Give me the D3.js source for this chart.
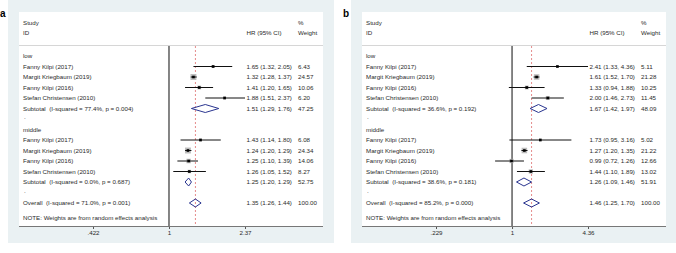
<!DOCTYPE html>
<html>
<head>
<meta charset="utf-8">
<script src="https://cdn.jsdelivr.net/npm/d3@7"></script>
<style>
  body { margin: 0; background: #fff; }
  svg { display: block; font-family: "Liberation Sans", Arial, sans-serif; }
  text { white-space: pre; }
</style>
</head>
<body>
<svg id="chart" width="676" height="253"></svg>
<script>
// study labels and groups, same for both panels
const studies = ['Fanny Kilpi (2017)', 'Margit Kriegbaum (2019)', 'Fanny Kilpi (2016)', 'Stefan Christensen (2010)']
const groups = ['low', 'middle']

// panel a : HR, lower, upper, weight (low 4 studies then middle 4 studies)
const aEst = [1.65, 1.32, 1.41, 1.88, 1.43, 1.24, 1.25, 1.26]
const aLo = [1.32, 1.28, 1.20, 1.51, 1.14, 1.20, 1.10, 1.05]
const aHi = [2.05, 1.37, 1.65, 2.37, 1.80, 1.29, 1.39, 1.52]
const aW = [6.43, 24.57, 10.06, 6.20, 6.08, 24.34, 14.06, 8.27]
// subtotals low, middle, then overall
const aPoolEst = [1.51, 1.25, 1.35]
const aPoolLo = [1.29, 1.20, 1.26]
const aPoolHi = [1.76, 1.29, 1.44]
const aPoolW = [47.25, 52.75, 100.00]
const aI2 = [77.4, 0.0, 71.0]
const aP = [0.004, 0.687, 0.001]
const aTicks = [0.422, 1, 2.37]
const aTickLabels = ['.422', '1', '2.37']

// panel b
const bEst = [2.41, 1.61, 1.33, 2.00, 1.73, 1.27, 0.99, 1.44]
const bLo = [1.33, 1.52, 0.94, 1.46, 0.95, 1.20, 0.72, 1.10]
const bHi = [4.36, 1.70, 1.88, 2.73, 3.16, 1.35, 1.26, 1.89]
const bW = [5.11, 21.28, 10.25, 11.45, 5.02, 21.22, 12.66, 13.02]
const bPoolEst = [1.67, 1.26, 1.46]
const bPoolLo = [1.42, 1.09, 1.25]
const bPoolHi = [1.97, 1.46, 1.70]
const bPoolW = [48.09, 51.91, 100.00]
const bI2 = [36.6, 38.6, 85.2]
const bP = [0.192, 0.181, 0.000]
const bTicks = [0.229, 1, 4.36]
const bTickLabels = ['.229', '1', '4.36']

const svg = d3.select('#chart')
const f2 = d3.format('.2f'), f1 = d3.format('.1f'), f3 = d3.format('.3f')

const bluish = '#eaf1f3'
const navy = '#2a3590'
const fs = '6.2px'
const hrX = 246.5
const wX = 298

const y = d3.scaleLinear().domain([0, 14]).range([56, 203])

const drawPanel = (ox, letter, est, lo, hi, w, pEst, pLo, pHi, pW, i2, p, ticks, tickLabels) => {

	const g = svg.append('g').attr('transform', `translate(${ox},0)`)

	g.append('text')
	.attr('x', 0).attr('y', 17)
	.style('font-size', '10px').style('font-weight', 'bold')
	.text(letter)

	g.append('rect').attr('x', 8).attr('y', 0).attr('width', 326).attr('height', 243).attr('fill', bluish)
	g.append('rect').attr('x', 19).attr('y', 12).attr('width', 304).attr('height', 214).attr('fill', '#fff')

	// header
	const txt = (x, yy, s, anchor) => g.append('text')
		.attr('x', x).attr('y', yy).attr('dy', '0.35em')
		.attr('text-anchor', anchor || 'start')
		.style('font-size', fs).attr('fill', '#2a2a2a')
		.text(s)

	txt(23, 22.5, 'Study')
	txt(23, 33, 'ID')
	txt(wX, 22.5, '%')
	txt(hrX, 33, 'HR (95% CI)')
	txt(wX, 33, 'Weight')

	g.append('line').attr('x1', 19).attr('x2', 323).attr('y1', 45.5).attr('y2', 45.5)
	.attr('stroke', '#d6d6d6').attr('stroke-width', 1)

	const x = d3.scaleLog().domain([ticks[0], ticks[2]]).range([93, 245])

	// null line and pooled effect line
	g.append('line').attr('x1', x(1)).attr('x2', x(1)).attr('y1', 46).attr('y2', 226)
	.attr('stroke', '#222').attr('stroke-width', 1.1)

	g.append('line').attr('x1', x(pEst[2])).attr('x2', x(pEst[2])).attr('y1', 46).attr('y2', 226)
	.attr('stroke', '#e58c8c').attr('stroke-width', 1).attr('stroke-dasharray', '2,2')

	// rows
	groups.forEach((grp, gi) => {
		const base = gi * 7
		txt(23, y(base), grp)
		studies.forEach((s, si) => {
			const k = gi * 4 + si
			const yy = y(base + 1 + si)
			txt(23, yy, s)
			txt(hrX, yy, `${f2(est[k])} (${f2(lo[k])}, ${f2(hi[k])})`)
			txt(wX, yy, f2(w[k]))

			const side = 1.2 * Math.sqrt(w[k])
			g.append('rect')
			.attr('x', x(est[k]) - side / 2).attr('y', yy - side / 2)
			.attr('width', side).attr('height', side)
			.attr('fill', '#bdbdbd')

			g.append('line')
			.attr('x1', x(lo[k])).attr('x2', x(hi[k]))
			.attr('y1', yy).attr('y2', yy)
			.attr('stroke', '#111').attr('stroke-width', 1)

			g.append('rect')
			.attr('x', x(est[k]) - 1.3).attr('y', yy - 1.3)
			.attr('width', 2.6).attr('height', 2.6)
			.attr('fill', '#000')
		})
		const ys = y(base + 5)
		txt(23, ys, `Subtotal  (I-squared = ${f1(i2[gi])}%, p = ${f3(p[gi])})`)
		txt(hrX, ys, `${f2(pEst[gi])} (${f2(pLo[gi])}, ${f2(pHi[gi])})`)
		txt(wX, ys, f2(pW[gi]))
		txt(24, y(base + 6) - 2, '.')
	})

	const yo = y(14)
	txt(23, yo, `Overall  (I-squared = ${f1(i2[2])}%, p = ${f3(p[2])})`)
	txt(hrX, yo, `${f2(pEst[2])} (${f2(pLo[2])}, ${f2(pHi[2])})`)
	txt(wX, yo, f2(pW[2]))
	txt(23, 218, 'NOTE: Weights are from random effects analysis')

	// diamonds
	;[0, 1, 2].forEach(i => {
		const yy = y(i === 2 ? 14 : i * 7 + 5)
		const pts = [[x(pLo[i]), yy], [x(pEst[i]), yy - 4], [x(pHi[i]), yy], [x(pEst[i]), yy + 4]]
		g.append('polygon')
		.attr('points', pts.map(d => d.join(',')).join(' '))
		.attr('fill', 'none').attr('stroke', navy).attr('stroke-width', 1)
	})

	// axis
	const axis = g.append('g')
	.attr('transform', 'translate(0,226)')
	.call(d3.axisBottom(x).tickValues(ticks).tickSize(3).tickPadding(2).tickFormat((d, i) => tickLabels[i]))

	axis.select('.domain').remove()
	axis.append('line').attr('x1', 19).attr('x2', 323).attr('y1', 0.5).attr('y2', 0.5)
	.attr('stroke', '#777').attr('stroke-width', 1)
	axis.selectAll('.tick line').attr('stroke', '#555')
	axis.selectAll('.tick text').style('font-size', fs).attr('fill', '#2a2a2a')
	.style('font-family', '"Liberation Sans", Arial, sans-serif')
}

drawPanel(0, 'a', aEst, aLo, aHi, aW, aPoolEst, aPoolLo, aPoolHi, aPoolW, aI2, aP, aTicks, aTickLabels)
drawPanel(343, 'b', bEst, bLo, bHi, bW, bPoolEst, bPoolLo, bPoolHi, bPoolW, bI2, bP, bTicks, bTickLabels)
</script>
</body>
</html>
